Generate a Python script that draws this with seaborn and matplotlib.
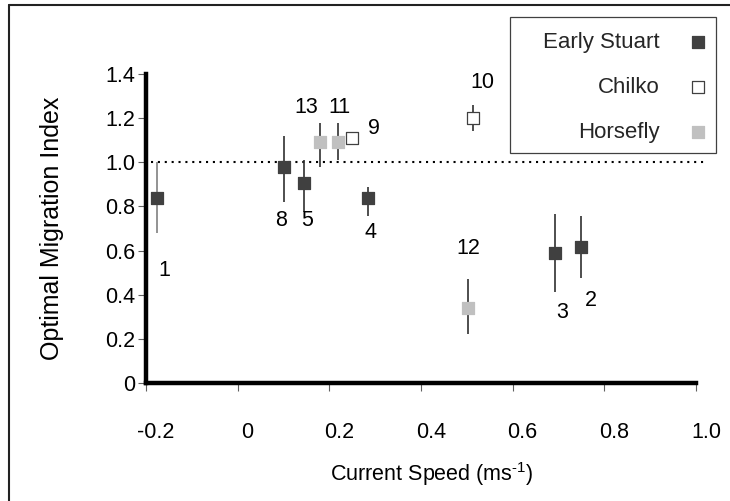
import numpy as np
import pandas as pd
import matplotlib
matplotlib.use("Agg")
import matplotlib.pyplot as plt
import matplotlib.transforms as mtransforms
from matplotlib.lines import Line2D
from matplotlib.patches import Rectangle
import seaborn as sns

# Sockeye stocks: optimal migration index against current speed
stock_id = [1, 2, 3, 4, 5, 8, 9, 10, 11, 12, 13]
population = ["Early Stuart", "Early Stuart", "Early Stuart", "Early Stuart",
              "Early Stuart", "Early Stuart", "Chilko", "Chilko",
              "Horsefly", "Horsefly", "Horsefly"]
current_speed = [-0.175, 0.748, 0.693, 0.285, 0.145, 0.101, 0.250, 0.514,
                 0.219, 0.503, 0.180]
migration_index = [0.836, 0.618, 0.590, 0.836, 0.905, 0.977, 1.11, 1.20,
                   1.09, 0.34, 1.09]
index_low = [0.68, 0.477, 0.414, 0.755, 0.773, 0.82, 1.11, 1.14,
             1.01, 0.22, 0.98]
index_high = [1.00, 0.755, 0.764, 0.886, 1.01, 1.12, 1.11, 1.26,
              1.18, 0.47, 1.18]

populations = ["Early Stuart", "Chilko", "Horsefly"]
x_ticks = [-0.2, 0.0, 0.2, 0.4, 0.6, 0.8, 1.0]
x_tick_labels = ["-0.2", "0", "0.2", "0.4", "0.6", "0.8", "1.0"]
y_ticks = [0.0, 0.2, 0.4, 0.6, 0.8, 1.0, 1.2, 1.4]
y_tick_labels = ["0", "0.2", "0.4", "0.6", "0.8", "1.0", "1.2", "1.4"]

df = pd.DataFrame({
    "id": stock_id, "population": population, "speed": current_speed,
    "index": migration_index, "low": index_low, "high": index_high,
})

# marker styling per population: (fill, edge)
marker_style = {
    "Early Stuart": ("#404040", "#404040"),
    "Chilko": ("#ffffff", "#404040"),
    "Horsefly": ("#c0c0c0", "#c0c0c0"),
}
# label placement in pixels relative to each marker
label_offset_px = {
    1: (7, -72), 2: (10, -54), 3: (7, -60), 4: (2, -34), 5: (3, -37),
    8: (-3, -53), 9: (22, 10), 10: (9, 36), 11: (1, 35), 12: (0, 59),
    13: (-14, 35),
}

sns.set_theme(style="white")
plt.rcParams["font.family"] = ["Liberation Sans", "DejaVu Sans"]
plt.rcParams["mathtext.fontset"] = "custom"
plt.rcParams["mathtext.rm"] = "Liberation Sans"
plt.rcParams["mathtext.it"] = "Liberation Sans:italic"
plt.rcParams["mathtext.bf"] = "Liberation Sans:bold"

W, H = 730, 501
fig = plt.figure(figsize=(W / 100, H / 100), dpi=100)
ax = fig.add_axes([146 / W, 1 - 383 / H, 550 / W, 309 / H])

# error bars
bar_colors = ["#808080" if i == 1 else "#303030" for i in df["id"]]
ax.vlines(df["speed"], df["low"], df["high"], colors=bar_colors,
          linewidth=1.2, zorder=2)

# reference line at index 1.0
ax.plot([-0.19, 1.02], [1.0, 1.0], color="black", linewidth=1.5,
        linestyle=(0, (1, 2.3)), dash_capstyle="butt", zorder=1,
        clip_on=False)

for pop in populations:
    sub = df[df["population"] == pop]
    fill, edge = marker_style[pop]
    sns.scatterplot(data=sub, x="speed", y="index", ax=ax, marker="s",
                    s=64, color=fill, edgecolor=edge, linewidth=0.9,
                    label=pop, zorder=3)

for _, row in df.iterrows():
    dx, dy = label_offset_px[row["id"]]
    ax.annotate(str(row["id"]), (row["speed"], row["index"]),
                xytext=(dx * 0.72, dy * 0.72), textcoords="offset points",
                ha="center", va="center", fontsize=15.5, color="black")

ax.set_xlim(-0.2, 1.0)
ax.set_ylim(0, 1.4)
ax.set_xticks(x_ticks)
ax.set_xticklabels(x_tick_labels)
ax.set_yticks(y_ticks)
ax.set_yticklabels(y_tick_labels)
ax.tick_params(axis="both", which="major", direction="out", length=6,
               width=0.8, color="#606060", labelsize=15.5, labelcolor="black",
               left=True, bottom=True)
ax.tick_params(axis="x", pad=22)
ax.tick_params(axis="y", pad=2)
shift = mtransforms.ScaledTranslation(10 / 100, 0, fig.dpi_scale_trans)
for lbl in ax.get_xticklabels():
    lbl.set_transform(lbl.get_transform() + shift)

for side in ["top", "right"]:
    ax.spines[side].set_visible(False)
for side in ["left", "bottom"]:
    ax.spines[side].set_color("black")
    ax.spines[side].set_linewidth(3.2)

ax.set_xlabel(r"Current Speed (ms$^{\text{-1}}$)", fontsize=15.5,
              color="black")
ax.set_ylabel("Optimal Migration Index", fontsize=18, color="black")
ax.xaxis.set_label_coords((432 - 146) / 550, -(460 - 383) / 309)
ax.yaxis.set_label_coords(-(146 - 64) / 550, 0.5)

# legend box, then entries right-aligned with markers after the text
ax.add_patch(Rectangle((510 / W, 1 - 153 / H), 206 / W, 136 / H,
                       transform=fig.transFigure, facecolor="white",
                       edgecolor="#404040", linewidth=0.9, zorder=4,
                       clip_on=False))
leg = ax.legend(loc="upper right", bbox_to_anchor=(722 / W, 1 - 19 / H),
                bbox_transform=fig.transFigure, markerfirst=False,
                frameon=False, fontsize=16, handlelength=1.0,
                handletextpad=1.2, labelspacing=1.08, borderpad=0.6,
                borderaxespad=0)
leg.set_zorder(6)

# outer chart border
fig.add_artist(Line2D([9 / W, 9 / W], [0, 1 - 5 / H], color="#222222",
                      linewidth=1.5, transform=fig.transFigure))
fig.add_artist(Line2D([9 / W, 1], [1 - 5 / H, 1 - 5 / H], color="#222222",
                      linewidth=1.5, transform=fig.transFigure))

fig.savefig("out.png", dpi=100)
